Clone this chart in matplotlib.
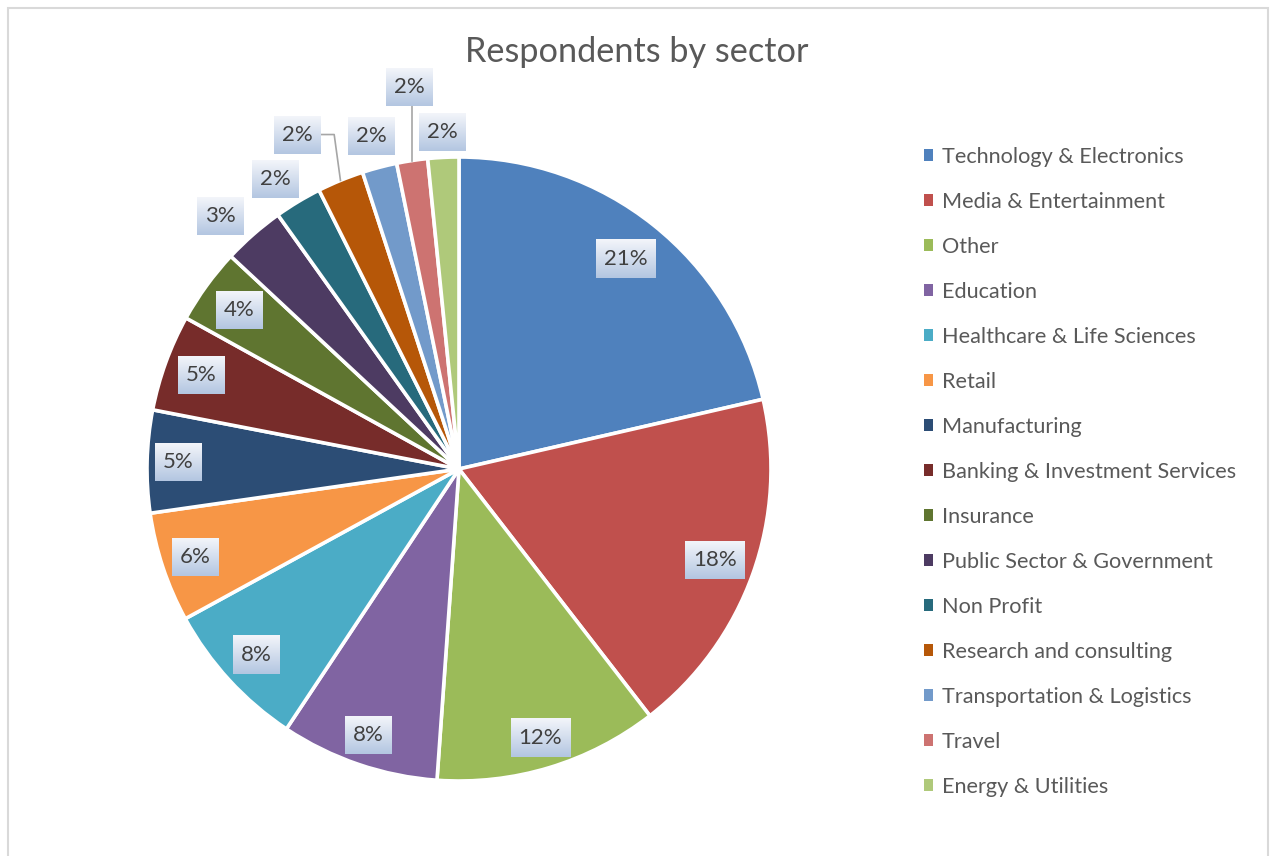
import matplotlib
matplotlib.use("Agg")

import matplotlib.pyplot as plt
import numpy as np
from matplotlib.patches import Patch, Rectangle
from matplotlib.colors import LinearSegmentedColormap

# ── data ────────────────────────────────────────────────────────────────────
sectors = [
    "Technology & Electronics",
    "Media & Entertainment",
    "Other",
    "Education",
    "Healthcare & Life Sciences",
    "Retail",
    "Manufacturing",
    "Banking & Investment Services",
    "Insurance",
    "Public Sector & Government",
    "Non Profit",
    "Research and consulting",
    "Transportation & Logistics",
    "Travel",
    "Energy & Utilities",
]
shares = [21.4, 18.1, 11.6, 8.2, 7.7, 5.7, 5.3, 5.0, 3.9, 3.2, 2.45, 2.4, 1.8, 1.6, 1.6]
colors = [
    "#4F81BD", "#C0504D", "#9BBB59", "#8064A2", "#4BACC6",
    "#F79646", "#2C4D75", "#772C2A", "#5F7530", "#4D3B62",
    "#276A7C", "#B65708", "#729ACA", "#CD7371", "#AFC97A",
]

# ── layout (pixels of the 1270x856 output) ─────────────────────────────────
W, H = 1270, 856
CX, CY, R = 459, 469, 312
# distance of each data label from the pie centre, in radii
label_r = [0.86, 0.87, 0.90, 0.90, 0.88, 0.89, 0.90, 0.88, 0.87,
           1.115, 1.10, 1.19, 1.105, 1.235, 1.08]
label_da = [0, 0, 0, 0, 0, 0, 0, 0, 0, -2.0, -1.2, -3.4, 0, 1.2, 0]

plt.rcParams["font.family"] = ["Lato", "DejaVu Sans"]
TXT = "#404040"
GREY = "#595959"

fig = plt.figure(figsize=(W / 100, H / 100), dpi=100)
ax = fig.add_axes([0, 0, 1, 1])
xlim = (-CX / R, (W - CX) / R)
ylim = ((CY - H) / R, CY / R)

wedges, _ = ax.pie(
    shares, colors=colors, startangle=90, counterclock=False, radius=1,
    wedgeprops=dict(edgecolor="white", linewidth=2.6),
)

# angles measured clockwise from 12 o'clock
total = sum(shares)
ends = np.cumsum(shares) / total * 360
mids = ends - np.array(shares) / total * 180

box_cmap = LinearSegmentedColormap.from_list("lbl", ["#F3F5FA", "#B3C6E1"])
grad = np.linspace(0, 1, 64).reshape(-1, 1)

renderer = fig.canvas.get_renderer()
for i, (s, m) in enumerate(zip(shares, mids)):
    a = np.deg2rad(m + label_da[i])
    x, y = label_r[i] * np.sin(a), label_r[i] * np.cos(a)
    t = ax.text(x, y, f"{round(s / total * 100)}%", ha="center", va="center",
                fontsize=16, color=TXT, zorder=5)
    bb = t.get_window_extent(renderer)
    bw = (bb.width + 16) / R
    bh = 38 / R
    ax.imshow(grad, extent=[x - bw / 2, x + bw / 2, y - bh / 2, y + bh / 2],
              origin="upper", cmap=box_cmap, aspect="auto", zorder=4,
              interpolation="bilinear")

    # leader lines for the two crowded labels
    a0 = np.deg2rad(m)
    ex, ey = np.sin(a0), np.cos(a0)
    if sectors[i] == "Research and consulting":
        sx = x + bw / 2
        ax.plot([sx, sx + 13 / R, ex], [y, y, ey], color="#A6A6A6", lw=1.2, zorder=3)
    elif sectors[i] == "Travel":
        ax.plot([ex, ex], [y - bh / 2, ey], color="#A6A6A6", lw=1.2, zorder=3)

ax.set_xlim(*xlim)
ax.set_ylim(*ylim)
ax.set_aspect("equal")
ax.axis("off")

# ── title / legend / frame ─────────────────────────────────────────────────
fig.text(637 / W, 1 - 52 / H, "Respondents by sector", ha="center", va="center",
         fontsize=24.7, color=GREY)

handles = [Patch(facecolor=c, edgecolor="none") for c in colors]
fig.legend(handles, sectors, loc="upper left",
           bbox_to_anchor=(915 / W, 1 - 138 / H), frameon=False,
           fontsize=15.6, labelcolor=GREY, handlelength=0.45, handleheight=0.45,
           handletextpad=0.4, labelspacing=1.155, borderaxespad=0)

fig.patches.append(Rectangle((8 / W, -0.05), 1260 / W, 1 - 8 / H + 0.05,
                             transform=fig.transFigure, fill=False,
                             edgecolor="#D9D9D9", lw=1.5))

fig.savefig("out.png", dpi=100)
